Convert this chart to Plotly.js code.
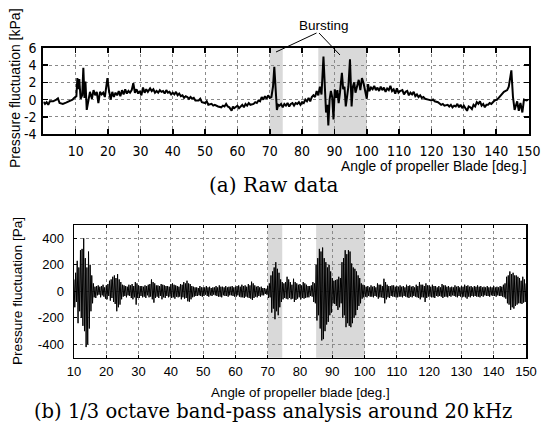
<!DOCTYPE html>
<html><head><meta charset="utf-8">
<script src="https://cdn.plot.ly/plotly-3.0.1.min.js"></script>
<style>html,body{margin:0;padding:0;background:#fff}#chart{width:542px;height:427px}
.subplot.xy .xtick text,.subplot.xy .ytick text{font-stretch:condensed}</style>
</head><body><div id="chart"></div>
<script>
// ---- (a) Raw data : angle [deg] vs pressure fluctuation [kPa]
const rawAngle = [0,0.5,1,1.5,2,3,4,4.5,5,6,7,8,9,9.5,10,10.2,10.5,10.8,11.1,11.5,12,12.35,12.7,13,13.4,13.8,14.4,15,15.5,16,16.5,17,17.5,18,18.5,19,19.8,20.3,20.8,21.3,21.8,22.3,22.8,23.3,23.8,24.3,24.8,25.3,25.8,26.3,26.8,27.3,27.8,28.3,28.8,29.3,29.8,30.3,30.8,31.3,31.8,32.3,33,33.5,34,34.5,35,35.5,36,36.5,37,37.5,38,38.5,39,39.5,40,40.5,41,41.5,42,42.5,43,43.5,44,44.5,45,45.5,46,46.5,47,48,48.5,49,50,50.5,51,52,52.5,53,54,55,55.5,56,56.5,57,57.5,58.2,58.6,59,60,60.5,61,61.5,62,62.5,63,63.5,64,65,65.5,66,66.5,67,67.5,68,68.5,69,69.5,70,70.5,71,71.4,71.8,72.2,72.6,73,73.5,74,74.5,75,75.5,76,76.5,77,77.5,78,78.5,79,79.5,80,80.5,81,81.5,82,82.5,83,83.5,84,84.5,85,85.5,86,86.6,87,87.4,87.8,88.1,88.5,88.9,89.3,89.7,90.1,90.5,90.9,91.3,91.7,92.3,92.7,93.1,93.5,93.9,94.3,94.8,95.3,95.7,96.1,96.5,97,97.5,98,98.5,99,99.5,100,100.4,100.8,101.3,101.8,102.3,102.8,103.3,103.8,104.3,104.8,105.3,105.8,106.3,106.8,107.3,107.8,108.3,108.8,109.3,109.8,110.3,111,111.5,112,112.5,113,113.5,114,114.5,115,115.5,116,116.5,117,117.5,118,119,120,120.5,121,122,123,123.5,124,125,125.5,126,126.5,127,127.5,128,128.5,129,129.5,130,130.5,131,131.5,132,132.5,133,133.5,134,134.5,135,135.5,136,136.5,137,137.5,138,138.5,139,139.5,140.3,141.4,142.4,143.4,143.9,144.7,145.2,145.7,146.5,147,147.5,148.1,148.6,149.4,150];
const rawKPa = [-0.25,-0.5,-0.3,-0.6,-0.2,-0.2,0.0,0.15,-0.4,-0.5,-0.35,-0.2,0.0,0.2,0.3,0.4,2.5,1.2,2.4,0.1,0.5,3.7,0.2,2.1,-1.2,-0.4,0.9,0.1,1.1,0.5,0.9,-0.4,0.9,0.6,0.8,0.3,2.5,1.0,0.0,0.9,0.3,0.8,0.5,1.0,0.4,1.1,0.6,1.2,0.7,1.0,0.8,1.1,1.9,0.8,1.2,0.7,1.0,0.5,1.4,0.8,1.2,0.9,1.3,1.0,1.2,0.8,1.0,0.8,1.1,0.9,1.0,0.7,1.1,0.8,0.9,0.6,0.8,0.6,0.9,0.5,0.7,0.4,0.5,0.2,0.4,0.3,0.1,0.3,0.1,0.2,-0.1,-0.1,0.1,-0.3,-0.4,-0.2,-0.6,-0.5,-0.7,-0.6,-0.8,-0.9,-0.7,-0.8,-0.5,-0.8,-0.9,-1.3,-0.8,-1.0,-0.7,-1.0,-0.8,-0.6,-0.9,-0.5,-0.7,-0.4,-0.6,-0.5,-0.3,-0.4,-0.1,-0.2,0.3,0.0,0.4,0.1,0.5,0.2,0.3,1.5,3.8,1.0,-1.2,-0.6,-0.7,-0.5,-0.9,-0.5,-0.7,-0.4,-0.8,-0.5,-0.4,-0.7,-0.4,-0.5,-0.3,-0.6,-0.3,-0.4,0.0,-0.2,0.2,-0.2,0.3,0.5,0.3,1.0,0.5,1.5,0.6,5.0,0.5,-1.5,-0.6,-3.0,0.0,1.0,0.3,-2.3,1.2,0.2,1.1,-0.4,0.8,3.1,1.2,1.5,-0.8,0.6,1.5,4.7,-0.8,1.5,2.0,0.8,1.6,2.3,1.1,2.5,1.9,1.0,0.1,1.8,1.0,1.4,1.2,1.6,1.1,1.4,1.0,1.5,1.1,1.4,0.9,1.3,1.1,1.6,1.0,1.2,0.7,1.3,0.8,1.0,1.1,0.6,0.9,1.0,0.5,0.8,0.6,0.9,0.4,0.6,0.3,0.5,0.2,0.3,0.1,0.0,-0.1,0.0,-0.2,-0.3,-0.6,-0.5,-0.7,-0.6,-0.8,-0.6,-0.9,-0.7,-0.8,-0.5,-0.9,-0.6,-1.0,-0.7,-1.1,-1.3,-0.8,-0.9,-1.1,-0.6,-0.8,-0.3,-0.5,-0.2,-0.7,-0.5,-0.9,-0.6,-0.6,-0.4,-0.5,-0.3,-0.1,0.0,0.5,0.9,1.1,1.5,3.4,0.3,-1.2,-0.2,-1.3,-0.4,-1.5,0.0,-0.1,0.0];

// ---- (b) 1/3 octave band-pass around 20 kHz : pressure fluctuation [Pa], sampled every 0.25 deg from 10 deg
const bandStartDeg = 10;
const bandStepDeg = 0.25;
const bandPa = [
 90,-120,140,-80, 230,-240,180,-150, 310,-200,320,-260, 400,-300,250,-420, 180,-400,300,-280,
 200,-150,120,-90, 60,-45,35,-50, 40,-30,45,-25, 35,-45,40,-30, 50,-40,30,-55,
 45,-60,55,-35, 80,-70,90,-50, 110,-80,120,-95, 100,-150,130,-120, 90,-100,70,-60,
 50,-40,45,-35, 40,-45,35,-30, 50,-35,45,-50, 55,-60,40,-45, 70,-100,60,-50,
 45,-50,40,-35, 40,-45,35,-40, 45,-50,40,-30, 50,-45,55,-40, 90,-60,70,-85,
 60,-50,45,-40, 45,-50,40,-35, 55,-60,50,-45, 45,-50,40,-35, 40,-45,35,-40,
 55,-50,60,-45, 50,-55,45,-40, 40,-45,35,-40, 55,-60,50,-45, 70,-55,60,-50,
 80,-75,60,-78, 55,-60,40,-45, 35,-40,30,-35, 30,-35,25,-30, 40,-35,30,-40,
 30,-35,30,-25, 40,-35,30,-40, 35,-30,25,-35, 30,-25,30,-30, 40,-35,30,-40,
 45,-40,35,-45, 35,-30,30,-35, 40,-35,30,-40, 35,-30,35,-30, 40,-35,30,-40,
 35,-40,40,-30, 45,-40,35,-45, 50,-45,40,-50, 45,-40,35,-45, 55,-50,45,-55,
 73,-65,60,-50, 45,-40,35,-45, 40,-35,30,-40, 35,-30,25,-30, 25,-20,20,-25,
 40,-50,60,-45, 120,-160,150,-130, 180,-210,220,-150, 170,-180,140,-120, 90,-80,70,-60,
 60,-50,70,-55, 110,-60,90,-50, 70,-60,50,-55, 95,-80,70,-65, 60,-55,50,-45,
 55,-60,45,-50, 70,-55,60,-50, 50,-45,40,-45, 40,-35,45,-40, 70,-80,60,-90,
 200,-220,250,-180, 320,-280,300,-370, 330,-360,250,-300, 220,-250,180,-230, 200,-180,150,-160,
 100,-90,80,-95, 85,-110,90,-140, 110,-120,100,-90, 220,-200,250,-180, 310,-270,280,-240,
 310,-260,300,-270, 210,-240,180,-200, 170,-180,150,-140, 120,-110,100,-90, 60,-55,50,-45,
 45,-40,35,-45, 40,-35,30,-40, 45,-40,35,-45, 40,-35,30,-40, 60,-55,50,-45,
 50,-45,40,-50, 95,-90,70,-60, 50,-45,40,-50, 40,-35,45,-40, 45,-40,35,-45,
 40,-45,35,-40, 45,-40,35,-45, 40,-35,30,-40, 50,-45,40,-50, 45,-40,35,-45,
 40,-35,30,-40, 50,-45,40,-50, 70,-60,50,-45, 50,-45,40,-80, 60,-50,45,-40,
 45,-40,35,-45, 50,-45,40,-50, 40,-35,30,-40, 40,-35,30,-40, 55,-50,45,-40,
 45,-40,35,-45, 40,-35,30,-40, 35,-30,30,-35, 45,-40,35,-45, 40,-35,30,-40,
 40,-45,35,-40, 50,-45,40,-55, 45,-40,35,-45, 40,-35,30,-40, 40,-35,35,-40,
 45,-40,35,-45, 40,-35,30,-40, 35,-30,30,-35, 40,-35,30,-40, 35,-30,30,-35,
 40,-35,30,-40, 35,-30,30,-35, 40,-35,35,-40, 50,-45,60,-55, 110,-90,120,-100,
 150,-140,130,-120, 140,-130,120,-110, 120,-100,110,-90, 100,-90,80,-95, 110,-85,90,-80,
 60];

// ---- shaded "bursting" ranges [deg]
const burstStartA = [70, 85], burstEndA = [74, 100];
const burstStartB = [70, 85], burstEndB = [74.5, 100];

const ticksA_x = [10,20,30,40,50,60,70,80,90,100,110,120,130,140,150];
const ticksA_y = [-4,-2,0,2,4,6];
const ticksA_yText = ['-4','-2','0','2','4','6'];
const ticksB_x = [10,20,30,40,50,60,70,80,90,100,110,120,130,140,150];
const ticksB_y = [-400,-200,0,200,400];
const ticksB_yText = ['-400','-200','0','200','400'];

const W = 542, H = 427;
const px = v => v / W, py = v => 1 - v / H;

const narrow = 'DejaVu Sans Condensed, Liberation Sans Narrow, DejaVu Sans, sans-serif';
const sans = 'Liberation Sans, Arial, sans-serif';
const serif = 'DejaVu Serif, Liberation Serif, serif';

function axisStyle(extra) {
  return Object.assign({
    showgrid: true, gridcolor: '#8a8a8a', griddash: 'dot', gridwidth: 1,
    zeroline: false, showline: true, linecolor: '#000', mirror: 'ticks',
    ticks: 'inside', tickcolor: '#000', fixedrange: true
  }, extra);
}

const traces = [
  { x: rawAngle, y: rawKPa, xaxis: 'x', yaxis: 'y', type: 'scatter', mode: 'lines',
    line: { color: '#000', width: 2 }, hoverinfo: 'skip' },
  { y: bandPa, x0: bandStartDeg, dx: bandStepDeg, xaxis: 'x2', yaxis: 'y2', type: 'scatter', mode: 'lines',
    line: { color: '#000', width: 1 }, hoverinfo: 'skip' }
];

const shapes = [];
burstStartA.forEach((s, i) => shapes.push({ type: 'rect', xref: 'x', yref: 'y domain', x0: s, x1: burstEndA[i], y0: 0, y1: 1,
  fillcolor: '#d9d9d9', line: { width: 0 }, layer: 'below' }));
burstStartB.forEach((s, i) => shapes.push({ type: 'rect', xref: 'x2', yref: 'y2 domain', x0: s, x1: burstEndB[i], y0: 0, y1: 1,
  fillcolor: '#d9d9d9', line: { width: 0 }, layer: 'below' }));
// leader lines of the "Bursting" label
shapes.push({ type: 'line', xref: 'paper', yref: 'paper', x0: px(316.5), y0: py(33), x1: px(276), y1: py(52), line: { color: '#000', width: 1 } });
shapes.push({ type: 'line', xref: 'paper', yref: 'paper', x0: px(319), y0: py(33), x1: px(340), y1: py(55), line: { color: '#000', width: 1 } });

const annotations = [
  { text: 'Bursting', xref: 'paper', yref: 'paper', x: px(324), y: py(26), showarrow: false, xanchor: 'center', yanchor: 'middle',
    font: { family: sans, size: 13.5, color: '#000' } },
  { text: 'Pressure fluctuation [kPa]', xref: 'paper', yref: 'paper', x: px(15), y: py(88), textangle: -90, showarrow: false,
    xanchor: 'center', yanchor: 'middle', font: { family: sans, size: 14, color: '#000' } },
  { text: 'Angle of propeller Blade [deg.]', xref: 'paper', yref: 'paper', x: px(529), y: py(166), showarrow: false,
    xanchor: 'right', yanchor: 'middle', font: { family: sans, size: 13.8, color: '#000' } },
  { text: '(a) Raw data', xref: 'paper', yref: 'paper', x: px(274), y: py(185), showarrow: false,
    xanchor: 'center', yanchor: 'middle', font: { family: serif, size: 20, color: '#000' } },
  { text: 'Pressure fluctuation [Pa]', xref: 'paper', yref: 'paper', x: px(17), y: py(291), textangle: -90, showarrow: false,
    xanchor: 'center', yanchor: 'middle', font: { family: sans, size: 13.6, color: '#000' } },
  { text: 'Angle of propeller blade [deg.]', xref: 'paper', yref: 'paper', x: px(300), y: py(392), showarrow: false,
    xanchor: 'center', yanchor: 'middle', font: { family: sans, size: 13.4, color: '#000' } },
  { text: '(b) 1/3 octave band-pass analysis around 20\u2009kHz', xref: 'paper', yref: 'paper', x: px(272.5), y: py(411), showarrow: false,
    xanchor: 'center', yanchor: 'middle', font: { family: serif, size: 19.5, color: '#000' } }
];

const layout = {
  width: W, height: H, margin: { l: 0, r: 0, t: 0, b: 0 },
  paper_bgcolor: '#fff', plot_bgcolor: 'rgba(0,0,0,0)', showlegend: false,
  xaxis: axisStyle({ domain: [px(43.4), px(528.5)], range: [0, 150], tickvals: ticksA_x, anchor: 'y',
    linewidth: 2, ticklen: 5, tickwidth: 1.5, ticklabelstandoff: 3, tickfont: { family: narrow, size: 14, color: '#000' } }),
  yaxis: axisStyle({ domain: [1 - 134 / H, 1 - 48 / H], range: [-4.001, 6.001], tickvals: ticksA_y, ticktext: ticksA_yText, anchor: 'x',
    linewidth: 2, ticklen: 5, tickwidth: 1.5, ticklabelstandoff: 2, tickfont: { family: narrow, size: 14, color: '#000' } }),
  xaxis2: axisStyle({ domain: [px(74), px(526)], range: [10, 150], tickvals: ticksB_x, anchor: 'y2',
    linewidth: 1.5, ticklen: 3, tickwidth: 1, ticklabelstandoff: 1, tickfont: { family: sans, size: 13, color: '#000' } }),
  yaxis2: axisStyle({ domain: [1 - 357.7 / H, 1 - 225 / H], range: [-500, 500], tickvals: ticksB_y, ticktext: ticksB_yText, anchor: 'x2',
    linewidth: 1.5, ticklen: 3, tickwidth: 1, ticklabelstandoff: 6, tickfont: { family: sans, size: 13, color: '#000' } }),
  shapes: shapes, annotations: annotations
};

Plotly.newPlot('chart', traces, layout, { staticPlot: true, displayModeBar: false });
</script></body></html>
